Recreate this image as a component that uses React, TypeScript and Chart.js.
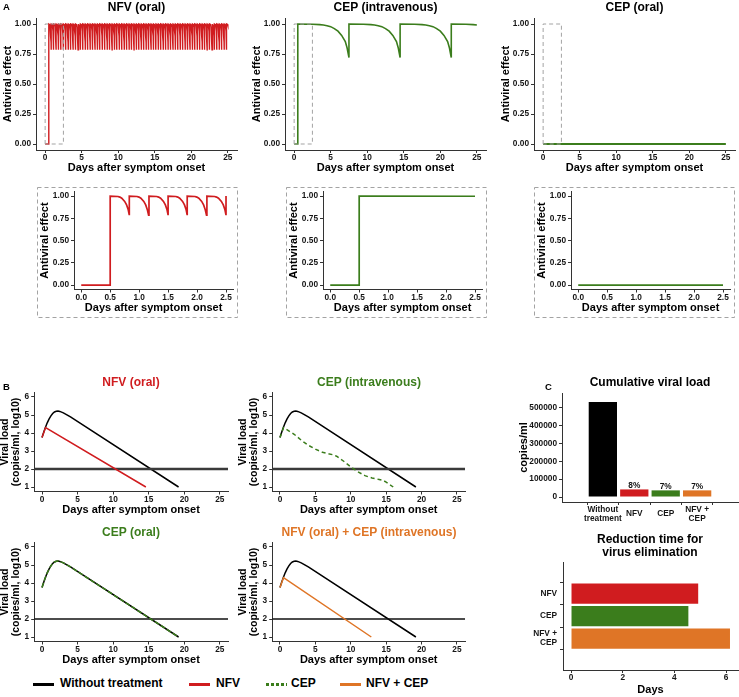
import React, { useEffect, useRef } from "react";
import { Chart, registerables } from "chart.js";
Chart.register(...registerables);

const FONT = '"Liberation Sans", Arial, Helvetica, sans-serif';
const RED = "#d01c1f";
const GREEN = "#3b7d1c";
const ORANGE = "#df7526";
const AXIS = "#333333";
const DASH_GRAY = "#a3a3a3";
const TICK_SIZE = 8.3;

// ---------- Panel A: antiviral effect ----------
const simEndDay = 25;
const nfvDoseDays = [0.5, 0.83, 1.17, 1.5, 1.83, 2.17, 2.5, 2.83, 3.17, 3.5, 3.83, 4.17, 4.5, 4.83, 5.17, 5.5, 5.83, 6.17, 6.5, 6.83, 7.17, 7.5, 7.83, 8.17, 8.5, 8.83, 9.17, 9.5, 9.83, 10.17, 10.5, 10.83, 11.17, 11.5, 11.83, 12.17, 12.5, 12.83, 13.17, 13.5, 13.83, 14.17, 14.5, 14.83, 15.17, 15.5, 15.83, 16.17, 16.5, 16.83, 17.17, 17.5, 17.83, 18.17, 18.5, 18.83, 19.17, 19.5, 19.83, 20.17, 20.5, 20.83, 21.17, 21.5, 21.83, 22.17, 22.5, 22.83, 23.17, 23.5, 23.83, 24.17, 24.5, 24.83];
const nfvCycleDay = [0, 0.133, 0.167, 0.2, 0.25, 0.283, 0.31, 0.333];
const nfvCycleEffect = [1.0, 0.995, 0.988, 0.975, 0.94, 0.9, 0.85, 0.785];
const cepIvDoseDays = [0.5, 7.5, 14.5, 21.5];
const cepIvCycleDay = [0, 2, 3, 3.5, 4, 4.5, 5, 5.5, 6, 6.5, 6.75, 7];
const cepIvCycleEffect = [1.0, 0.998, 0.995, 0.991, 0.986, 0.978, 0.962, 0.94, 0.905, 0.853, 0.8, 0.72];
const cepOralDays = [0, 25];
const cepOralEffect = [0, 0];
const cepOralInsetDays = [0, 2.5];
const cepOralInsetEffect = [0, 0];
const zoomWindowDays = [0, 2.5];
const zoomWindowEffect = [0, 1];
const aYTicks = [0, 0.25, 0.5, 0.75, 1];
const aXTicks = [0, 5, 10, 15, 20, 25];
const insetXTicks = [0, 0.5, 1, 1.5, 2, 2.5];

// ---------- Panel B: viral load ----------
const noTxDays = [0, 0.25, 0.5, 0.75, 1, 1.25, 1.5, 1.75, 2, 2.25, 2.5, 3, 3.5, 4, 19.2];
const noTxLoad = [3.75, 4.05, 4.33, 4.58, 4.78, 4.95, 5.08, 5.17, 5.21, 5.22, 5.2, 5.12, 5.01, 4.89, 1.0];
const nfvDays = [0, 0.5, 14.6];
const nfvLoad = [3.75, 4.3, 1.0];
const cepIvDays = [0, 0.5, 2, 3, 4, 5, 6, 7, 7.5, 8, 9, 10, 11, 12, 13, 14, 14.5, 15, 16];
const cepIvLoad = [3.75, 4.3, 3.93, 3.6, 3.32, 3.1, 2.93, 2.83, 2.79, 2.71, 2.43, 2.12, 1.85, 1.63, 1.5, 1.42, 1.38, 1.27, 1.0];
const cepOralDaysB = [0, 0.25, 0.5, 0.75, 1, 1.25, 1.5, 1.75, 2, 2.25, 2.5, 3, 3.5, 4, 19.2];
const cepOralLoad = [3.75, 4.05, 4.33, 4.58, 4.78, 4.95, 5.08, 5.17, 5.21, 5.22, 5.2, 5.12, 5.01, 4.89, 1.0];
const comboDays = [0, 0.5, 12.9];
const comboLoad = [3.75, 4.3, 1.0];
const detectionLimit = 2;
const bYTicks = [1, 2, 3, 4, 5, 6];
const bXTicks = [0, 5, 10, 15, 20, 25];

// ---------- Panel C ----------
const cumCategories: (string | string[])[] = [["Without", "treatment"], "NFV", "CEP", ["NFV +", "CEP"]];
const cumValues = [533000, 42600, 37300, 37300];
const cumPercentLabels = ["", "8%", "7%", "7%"];
const cumYTicks = [0, 100000, 200000, 300000, 400000, 500000];
const redCategories: (string | string[])[] = ["NFV", "CEP", ["NFV +", "CEP"]];
const redValues = [4.92, 4.54, 6.15];
const redXTicks = [0, 2, 4, 6];
const barColors = ["#000000", RED, GREEN, ORANGE];
const redColors = [RED, GREEN, ORANGE];

// ---------- helpers ----------
function pts(xs: number[], ys: number[]) {
  return xs.map((x, i) => ({ x, y: ys[i] }));
}
function buildEffect(doses: number[], cycDays: number[], cycEff: number[], end: number) {
  const out = [{ x: 0, y: 0 }, { x: doses[0], y: 0 }];
  doses.forEach((d, i) => {
    const next = i + 1 < doses.length ? doses[i + 1] : Infinity;
    cycDays.forEach((o, j) => {
      const t = Math.min(d + o, next);
      if (t <= end + 1e-9) out.push({ x: t, y: cycEff[j] });
    });
  });
  return out;
}
function rectPts() {
  const [x0, x1] = zoomWindowDays;
  const [y0, y1] = zoomWindowEffect;
  return [{ x: x0, y: y0 }, { x: x0, y: y1 }, { x: x1, y: y1 }, { x: x1, y: y0 }, { x: x0, y: y0 }];
}
function font(size: number, lineHeight = 1.2) {
  return { family: FONT, size, weight: "bold" as const, lineHeight };
}
function axis(o: any) {
  return {
    type: "linear",
    min: o.min,
    max: o.max,
    reverse: !!o.reverse,
    afterBuildTicks: (s: any) => {
      s.ticks = o.ticks.map((v: number) => ({ value: v }));
    },
    afterFit: (s: any) => {
      if (o.horizontal) s.height = o.fit;
      else s.width = o.fit;
    },
    ticks: {
      font: font(TICK_SIZE, o.tickLH ?? 1.2),
      color: "#151515",
      padding: o.tickPad ?? 1,
      autoSkip: false,
      maxRotation: 0,
      minRotation: 0,
      callback: (v: any) => o.fmt(Number(v)),
    },
    grid: { display: true, drawOnChartArea: false, drawTicks: true, tickLength: 3, color: AXIS, lineWidth: 1 },
    border: { display: true, color: AXIS, width: 1 },
    title: o.title
      ? {
          display: true,
          text: o.title,
          font: font(o.titleSize ?? 11, o.titleLH ?? 1.2),
          color: "#000",
          padding: o.horizontal ? { top: 0, bottom: 0 } : { top: o.titlePad ?? 0, bottom: 0 },
        }
      : { display: false },
  };
}
function lineDs(data: any[], color: string, width: number, order: number, dash: number[] = []) {
  return {
    data,
    showLine: true,
    borderColor: color,
    backgroundColor: color,
    borderWidth: width,
    borderDash: dash,
    pointRadius: 0,
    pointHoverRadius: 0,
    tension: 0,
    fill: false,
    order,
    borderCapStyle: "butt",
    borderJoinStyle: "miter",
  };
}
type Box = { l: number; t: number; w: number; h: number };
type Area = { l: number; t: number; r: number; b: number };
function baseOptions(box: Box, area: Area, yW: number, xH: number, scales: any, extra: any = {}) {
  return {
    responsive: false,
    maintainAspectRatio: false,
    animation: false,
    devicePixelRatio: 1,
    events: [],
    layout: {
      padding: {
        left: area.l - box.l - yW,
        top: area.t - box.t,
        right: box.l + box.w - area.r,
        bottom: box.t + box.h - area.b - xH,
      },
    },
    plugins: { legend: { display: false }, tooltip: { enabled: false }, title: { display: false } },
    scales,
    ...extra,
  };
}

function frameRect(fx: number, fy: number, fw: number, fh: number) {
  return {
    id: "frameRect",
    afterDraw(chart: any) {
      const ctx = chart.ctx;
      ctx.save();
      ctx.setLineDash([4, 3]);
      ctx.strokeStyle = DASH_GRAY;
      ctx.lineWidth = 1;
      ctx.strokeRect(fx + 0.5, fy + 0.5, fw, fh);
      ctx.restore();
    },
  };
}

const barLabelPlugin = {
  id: "barLabels",
  afterDatasetsDraw(chart: any) {
    const ctx = chart.ctx;
    const meta = chart.getDatasetMeta(0);
    ctx.save();
    ctx.font = `bold ${TICK_SIZE}px ${FONT}`;
    ctx.fillStyle = "#111";
    ctx.textAlign = "center";
    ctx.textBaseline = "bottom";
    meta.data.forEach((bar: any, i: number) => {
      const t = cumPercentLabels[i];
      if (t) ctx.fillText(t, bar.x, bar.y);
    });
    ctx.restore();
  },
};

// category labels centred as a block under each bar (like ggplot)
const catLabelPlugin = {
  id: "catLabels",
  afterDraw(chart: any) {
    const ctx = chart.ctx;
    const xs = chart.scales.x;
    const lh = 8.4;
    const cy = chart.chartArea.bottom + 12.2;
    ctx.save();
    ctx.font = `bold ${TICK_SIZE}px ${FONT}`;
    ctx.fillStyle = "#151515";
    ctx.textAlign = "center";
    ctx.textBaseline = "middle";
    cumCategories.forEach((lab, i) => {
      const lines = Array.isArray(lab) ? lab : [lab];
      const x = xs.getPixelForValue(i);
      lines.forEach((ln, j) => ctx.fillText(ln, x, cy + (j - (lines.length - 1) / 2) * lh));
    });
    ctx.restore();
  },
};

// ---------- chart specs ----------
type Spec = { key: string; box: Box; config: () => any };

const DAYS_TITLE = "Days after symptom onset";

function topEffectSpec(key: string, boxL: number, boxW: number, areaL: number, areaR: number, data: any[], color: string, width: number): Spec {
  const box = { l: boxL, t: 0, w: boxW, h: 175 };
  const area = { l: areaL, t: 18, r: areaR, b: 150 };
  return {
    key,
    box,
    config: () => ({
      type: "scatter",
      data: { datasets: [lineDs(rectPts(), DASH_GRAY, 1, 0, [4, 3]), lineDs(data, color, width, 1)] },
      options: baseOptions(box, area, 36, 25, {
        x: axis({ min: -1.25, max: 26.25, ticks: aXTicks, fmt: (v: number) => String(v), title: DAYS_TITLE, horizontal: true, fit: 25, tickPad: 0 }),
        y: axis({ min: -0.05, max: 1.05, ticks: aYTicks, fmt: (v: number) => v.toFixed(2), title: "Antiviral effect", titlePad: 1, horizontal: false, fit: 36, tickPad: 2 }),
      }),
    }),
  };
}

function insetSpec(key: string, frameL: number, data: any[], color: string): Spec {
  const box = { l: frameL - 1, t: 180, w: 203, h: 139 };
  const area = { l: frameL + 37, t: 191.6, r: frameL + 196.25, b: 289.5 };
  const inset = data.filter((p) => p.x <= zoomWindowDays[1] + 1e-9);
  return {
    key,
    box,
    config: () => ({
      type: "scatter",
      data: { datasets: [lineDs(inset, color, 1.7, 0)] },
      options: baseOptions(box, area, 38, 25, {
        x: axis({ min: -0.125, max: 2.625, ticks: insetXTicks, fmt: (v: number) => v.toFixed(1), title: DAYS_TITLE, horizontal: true, fit: 25, tickPad: 0 }),
        y: axis({ min: -0.05, max: 1.05, ticks: aYTicks, fmt: (v: number) => v.toFixed(2), title: "Antiviral effect", titlePad: 2.4, horizontal: false, fit: 38, tickPad: 2 }),
      }),
      plugins: [frameRect(1, 7, 200, 130)],
    }),
  };
}

const B_XMIN = -1.1;
const B_XMAX = 26.15;

function viralSpec(key: string, boxL: number, boxT: number, boxW: number, areaL: number, areaR: number, areaT: number, treated: any[], color: string, dash: number[], hlWidth: number, hlColor: string): Spec {
  const box = { l: boxL, t: boxT, w: boxW, h: 139 };
  const area = { l: areaL, t: areaT, r: areaR, b: areaT + 99 };
  return {
    key,
    box,
    config: () => ({
      type: "scatter",
      data: {
        datasets: [
          lineDs(treated, color, 1.5, 0, dash),
          lineDs([{ x: B_XMIN, y: detectionLimit }, { x: B_XMAX, y: detectionLimit }], hlColor, hlWidth, 1),
          lineDs(pts(noTxDays, noTxLoad), "#000", 1.5, 2),
        ],
      },
      options: baseOptions(box, area, 34.2, 25, {
        x: axis({ min: B_XMIN, max: B_XMAX, ticks: bXTicks, fmt: (v: number) => String(v), title: DAYS_TITLE, horizontal: true, fit: 25, tickPad: 0 }),
        y: axis({ min: 0.75, max: 6.25, ticks: bYTicks, fmt: (v: number) => String(v), title: ["Viral load", "(copies/ml, log10)"], titleSize: 10.5, titleLH: 1.0, titlePad: 0.25, horizontal: false, fit: 34.2, tickPad: 2 }),
      }),
    }),
  };
}

const nfvEffect = buildEffect(nfvDoseDays, nfvCycleDay, nfvCycleEffect, simEndDay);
const cepIvEffect = buildEffect(cepIvDoseDays, cepIvCycleDay, cepIvCycleEffect, simEndDay);
const cepOralEffectPts = pts(cepOralDays, cepOralEffect);
const cepOralInsetPts = pts(cepOralInsetDays, cepOralInsetEffect);

const cumBox = { l: 518, t: 385, w: 221, h: 141 };
const cumArea = { l: 562, t: 393, r: 738, b: 502 };
const redBox = { l: 520, t: 540, w: 219, h: 157 };
const redArea = { l: 563, t: 562, r: 738, b: 670 };

const specs: Spec[] = [
  topEffectSpec("a1", 0, 248, 36, 237, nfvEffect, RED, 1.4),
  topEffectSpec("a2", 249, 248, 285, 486, cepIvEffect, GREEN, 1.6),
  topEffectSpec("a3", 498, 241, 534, 735, cepOralEffectPts, GREEN, 2),
  insetSpec("i1", 37, nfvEffect, RED),
  insetSpec("i2", 286, cepIvEffect, GREEN),
  insetSpec("i3", 534, cepOralInsetPts, GREEN),
  viralSpec("b1", 0, 378, 240, 34.2, 228, 392.5, pts(nfvDays, nfvLoad), RED, [], 2.4, "#3a3a3a"),
  viralSpec("b2", 238, 378, 242, 272.2, 465.1, 392.5, pts(cepIvDays, cepIvLoad), GREEN, [4, 3], 2.4, "#3a3a3a"),
  viralSpec("b3", 0, 528, 240, 34.2, 228, 542.5, pts(cepOralDaysB, cepOralLoad), GREEN, [5, 2], 1.5, "#111"),
  viralSpec("b4", 238, 528, 242, 272.2, 465.1, 542.5, pts(comboDays, comboLoad), ORANGE, [], 1.5, "#111"),
  {
    key: "c1",
    box: cumBox,
    config: () => ({
      type: "bar",
      data: {
        datasets: [
          {
            data: cumValues.map((v, i) => ({ x: i, y: v })),
            backgroundColor: barColors,
            borderWidth: 0,
            barPercentage: 0.9,
            categoryPercentage: 1,
          },
        ],
      },
      options: baseOptions(cumBox, cumArea, 44, 22, {
        x: axis({ min: -0.6, max: 3.6, ticks: [0, 1, 2, 3], fmt: () => "", horizontal: true, fit: 22, tickPad: 1 }),
        y: axis({ min: -28000, max: 584000, ticks: cumYTicks, fmt: (v: number) => String(v), title: "copies/ml", titleSize: 11, titleLH: 1.0, titlePad: 0.5, horizontal: false, fit: 44, tickPad: 2 }),
      }),
      plugins: [barLabelPlugin, catLabelPlugin],
    }),
  },
  {
    key: "c2",
    box: redBox,
    config: () => ({
      type: "bar",
      data: {
        datasets: [
          {
            data: redValues.map((v, i) => ({ x: v, y: i })),
            backgroundColor: redColors,
            borderWidth: 0,
            barPercentage: 0.9,
            categoryPercentage: 1,
          },
        ],
      },
      options: baseOptions(redBox, redArea, 43, 27, {
        x: axis({ min: -0.31, max: 6.46, ticks: redXTicks, fmt: (v: number) => String(v), title: "Days", horizontal: true, fit: 27, tickPad: 0 }),
        y: axis({ min: -0.6, max: 2.6, reverse: true, ticks: [0, 1, 2], fmt: (v: number) => redCategories[v] as any, horizontal: false, fit: 43, tickPad: 3, tickLH: 1.1 }),
      }, { indexAxis: "y" }),
    }),
  },
];

function ChartCanvas({ spec }: { spec: Spec }) {
  const ref = useRef<HTMLCanvasElement | null>(null);
  useEffect(() => {
    if (!ref.current) return;
    const c = new Chart(ref.current, spec.config());
    return () => c.destroy();
  }, []);
  const { l, t, w, h } = spec.box;
  return <canvas ref={ref} width={w} height={h} style={{ position: "absolute", left: l, top: t, width: w, height: h }} />;
}

function Label({ text, cx, cy, size = 12, color = "#000", lh }: { text: string; cx: number; cy: number; size?: number; color?: string; lh?: number }) {
  const h = lh ?? Math.round(size * 1.2);
  return (
    <div
      style={{
        position: "absolute",
        left: cx - 200,
        width: 400,
        top: cy - h / 2,
        height: h,
        lineHeight: h + "px",
        textAlign: "center",
        font: `bold ${size}px ${FONT}`,
        color,
        whiteSpace: "nowrap",
      }}
    >
      {text}
    </div>
  );
}

function Letter({ text, x, cy }: { text: string; x: number; cy: number }) {
  return (
    <div style={{ position: "absolute", left: x, top: cy - 6, height: 12, lineHeight: "12px", font: `bold 9.5px ${FONT}`, color: "#000" }}>{text}</div>
  );
}

const legendItems = [
  { label: "Without treatment", color: "#000", dashed: false, keyX: 33, textX: 60 },
  { label: "NFV", color: RED, dashed: false, keyX: 189, textX: 216 },
  { label: "CEP", color: GREEN, dashed: true, keyX: 266, textX: 291 },
  { label: "NFV + CEP", color: ORANGE, dashed: false, keyX: 340, textX: 366 },
];

export default function App() {
  return (
    <div style={{ position: "absolute", left: 0, top: 0, width: 739, height: 697, background: "#fff", overflow: "hidden" }}>
      {specs.map((s) => (
        <ChartCanvas key={s.key} spec={s} />
      ))}
      <Letter text="A" x={3} cy={7} />
      <Letter text="B" x={3} cy={387} />
      <Letter text="C" x={545} cy={387} />
      <Label text="NFV (oral)" cx={136.5} cy={7} />
      <Label text="CEP (intravenous)" cx={385.5} cy={7} />
      <Label text="CEP (oral)" cx={634.5} cy={7} />
      <Label text="NFV (oral)" cx={131} cy={381.7} color={RED} />
      <Label text="CEP (intravenous)" cx={369} cy={381.7} color={GREEN} />
      <Label text="CEP (oral)" cx={131} cy={531.7} color={GREEN} />
      <Label text="NFV (oral) + CEP (intravenous)" cx={369} cy={531.7} color={ORANGE} />
      <Label text="Cumulative viral load" cx={650} cy={382} />
      <Label text="Reduction time for" cx={650} cy={538} lh={13} />
      <Label text="virus elimination" cx={650} cy={551} lh={13} />
      {legendItems.map((it) => (
        <React.Fragment key={it.label}>
          <div
            style={{
              position: "absolute",
              left: it.keyX,
              top: 683,
              width: 21,
              height: 2.5,
              background: it.dashed
                ? `repeating-linear-gradient(to right, ${it.color} 0px, ${it.color} 3px, transparent 3px, transparent 5px)`
                : it.color,
            }}
          />
          <div style={{ position: "absolute", left: it.textX, top: 676, height: 16, lineHeight: "16px", font: `bold 12px ${FONT}`, color: "#000", whiteSpace: "nowrap" }}>
            {it.label}
          </div>
        </React.Fragment>
      ))}
    </div>
  );
}
